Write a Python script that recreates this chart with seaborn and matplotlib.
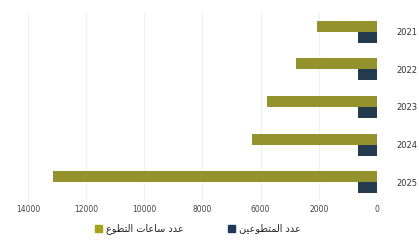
import numpy as np
import pandas as pd
import matplotlib
matplotlib.use("Agg")
import matplotlib.pyplot as plt
import seaborn as sns

years = ["2021", "2022", "2023", "2024", "2025"]
hours = [2400, 3250, 4400, 5000, 13000]
volunteers = [750, 750, 750, 750, 750]
series_names = ["عدد ساعات التطوع", "عدد المتطوعين"]
tick_labels = ["0", "2000", "6000", "8000", "10000", "12000", "14000"]

# minimal arabic shaping (matplotlib has no bidi / joining)
FORMS = {
    "ا": ("\uFE8D", "\uFE8E", None, None),
    "د": ("\uFEA9", "\uFEAA", None, None),
    "و": ("\uFEED", "\uFEEE", None, None),
    "ع": ("\uFEC9", "\uFECA", "\uFECB", "\uFECC"),
    "ل": ("\uFEDD", "\uFEDE", "\uFEDF", "\uFEE0"),
    "م": ("\uFEE1", "\uFEE2", "\uFEE3", "\uFEE4"),
    "ت": ("\uFE95", "\uFE96", "\uFE97", "\uFE98"),
    "ط": ("\uFEC1", "\uFEC2", "\uFEC3", "\uFEC4"),
    "ي": ("\uFEF1", "\uFEF2", "\uFEF3", "\uFEF4"),
    "ن": ("\uFEE5", "\uFEE6", "\uFEE7", "\uFEE8"),
    "س": ("\uFEB1", "\uFEB2", "\uFEB3", "\uFEB4"),
}


def shape(text):
    out = []
    for word in text.split(" "):
        chars = []
        for i, ch in enumerate(word):
            f = FORMS.get(ch)
            if f is None:
                chars.append(ch)
                continue
            prev_ok = i > 0 and word[i - 1] in FORMS and FORMS[word[i - 1]][2] is not None
            next_ok = f[2] is not None and i < len(word) - 1 and word[i + 1] in FORMS
            if prev_ok and next_ok:
                chars.append(f[3])
            elif prev_ok:
                chars.append(f[1])
            elif next_ok:
                chars.append(f[2])
            else:
                chars.append(f[0])
        out.append("".join(reversed(chars)))
    return " ".join(reversed(out))


df = pd.DataFrame({
    "year": years * 2,
    "value": hours + volunteers,
    "series": [series_names[0]] * 5 + [series_names[1]] * 5,
})

sns.set_style("white")
plt.rcParams["font.family"] = ["DejaVu Sans"]

fig = plt.figure(figsize=(4.19, 2.4), dpi=100)
ax = fig.add_axes([5 / 419, 1 - 201 / 240, 372 / 419, 188 / 240])

sns.barplot(data=df, x="value", y="year", hue="series", orient="h",
            palette=["#a5a31c", "#1d3a56"], width=0.58, linewidth=0,
            ax=ax, legend=False)

ax.set_xlim(14920, 0)
ax.set_ylim(4.5, -0.5)
ax.set_xticks(np.linspace(0, 14000, 7))
ax.set_xticklabels(tick_labels, fontsize=5.5, color="#444444")
ax.yaxis.tick_right()
ax.tick_params(axis="y", length=0, pad=14, labelsize=6, labelcolor="#333333")
ax.tick_params(axis="x", length=0, pad=3)
ax.set_xlabel("")
ax.set_ylabel("")
ax.grid(axis="x", color="#f0f0f0", linewidth=0.8)
ax.set_axisbelow(True)
for s in ax.spines.values():
    s.set_visible(False)

handles = [plt.Rectangle((0, 0), 1, 1, color="#a5a31c"),
           plt.Rectangle((0, 0), 1, 1, color="#1d3a56")]
fig.legend(handles, [shape(n) for n in series_names], loc="center",
           bbox_to_anchor=(198 / 419, 1 - 229 / 240), ncol=2, frameon=False,
           fontsize=7, handlelength=0.75, handleheight=0.75, handletextpad=0.4,
           columnspacing=4.5)

fig.savefig("out.png", dpi=100)
